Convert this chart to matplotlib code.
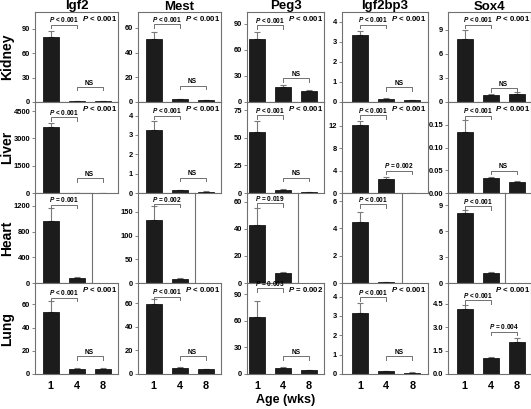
import matplotlib
matplotlib.use("Agg")
import matplotlib.pyplot as plt
import numpy as np

plt.rcParams['font.family'] = ['Liberation Sans', 'DejaVu Sans']
plt.rcParams['font.weight'] = 'bold'
plt.rcParams['mathtext.fontset'] = 'custom'
plt.rcParams['mathtext.it'] = 'Liberation Sans:italic:bold'
plt.rcParams['mathtext.rm'] = 'Liberation Sans:bold'

genes = ['Igf2', 'Mest', 'Peg3', 'Igf2bp3', 'Sox4']
tissues = ['Kidney', 'Liver', 'Heart', 'Lung']
ages = ['1', '4', '8']

# mean values per tissue, per gene (ages 1, 4, 8); heart has only 1 and 4 wks
means = {
    'Kidney': [[80, 1.5, 1.5], [51, 2.2, 1.4], [72, 17.3, 12.7], [3.33, 0.15, 0.08], [7.85, 0.87, 1.04]],
    'Liver':  [[3640, 8, 5], [3.25, 0.15, 0.07], [55.4, 3.0, 0.6], [12.1, 2.57, 0.05], [0.135, 0.032, 0.0234]],
    'Heart':  [[970, 78], [132, 9.5], [42.9, 7.3], [4.45, 0.05], [8.05, 1.15]],
    'Lung':   [[53, 4.4, 4.6], [59.3, 5.5, 4.0], [63.8, 6.4, 4.5], [3.17, 0.15, 0.07], [4.18, 1.0, 2.04]],
}
errs = {
    'Kidney': [[7.5, 0.3, 0.3], [6, 0.5, 0.2], [9, 2.7, 1.3], [0.2, 0.03, 0.02], [1.05, 0.13, 0.16]],
    'Liver':  [[220, 2, 1], [0.45, 0.03, 0.01], [9.6, 0.5, 0.2], [0.8, 0.23, 0.01], [0.025, 0.003, 0.0026]],
    'Heart':  [[190, 10], [30, 1.4], [12.7, 0.5], [0.78, 0.02], [0.38, 0.11]],
    'Lung':   [[9.8, 0.5, 0.8], [4.0, 0.5, 0.5], [18, 1.1, 0.4], [0.52, 0.03, 0.02], [0.26, 0.11, 0.26]],
}
ylims = {
    'Kidney': [110.6, 72.8, 103.5, 4.5, 11.2],
    'Liver':  [5000, 4.7, 82.5, 16.2, 0.2],
    'Heart':  [1400, 190, 66.3, 6.6, 10.4],
    'Lung':   [78.4, 77.3, 102.4, 4.7, 5.85],
}
yticks = {
    'Kidney': [[0, 30, 60, 90], [0, 20, 40, 60], [0, 30, 60, 90], [0, 1, 2, 3, 4], [0, 3, 6, 9]],
    'Liver':  [[0, 1500, 3000, 4500], [0, 1, 2, 3, 4], [0, 25, 50, 75], [0, 4, 8, 12], [0, 0.05, 0.10, 0.15]],
    'Heart':  [[0, 400, 800, 1200], [0, 50, 100, 150], [0, 20, 40, 60], [0, 2, 4, 6], [0, 3, 6, 9]],
    'Lung':   [[0, 20, 40, 60], [0, 20, 40, 60], [0, 30, 60, 90], [0, 1, 2, 3, 4], [0, 1.5, 3.0, 4.5]],
}
ytick_fmt = {('Liver', 4): '{:.2f}', ('Lung', 4): '{:.1f}'}

# overall P (top right) and pairwise comparisons: (label, height)
overall = {
    'Kidney': ['< 0.001'] * 5,
    'Liver':  ['< 0.001'] * 5,
    'Heart':  [None] * 5,
    'Lung':   ['< 0.001', '< 0.001', '= 0.002', '< 0.001', '< 0.001'],
}
pair14 = {
    'Kidney': [('< 0.001', 95), ('< 0.001', 62.7), ('< 0.001', 88), ('< 0.001', 3.87), ('< 0.001', 9.6)],
    'Liver':  [('< 0.001', 4170), ('< 0.001', 4.0), ('< 0.001', 70.8), ('< 0.001', 13.9), ('< 0.001', 0.17)],
    'Heart':  [('= 0.001', 1220), ('= 0.002', 167), ('= 0.019', 58.8), ('< 0.001', 5.76), ('< 0.001', 8.9)],
    'Lung':   [('< 0.001', 65.7), ('< 0.001', 65.6), ('= 0.003', 96.4), ('< 0.001', 3.97), ('< 0.001', 4.76)],
}
pair48 = {
    'Kidney': [('NS', 18.6), ('NS', 13.3), ('NS', 27.7), ('NS', 0.75), ('NS', 1.74)],
    'Liver':  [('NS', 820), ('NS', 0.8), ('NS', 14), ('= 0.002', 4.0), ('NS', 0.049)],
    'Heart':  [None] * 5,
    'Lung':   [('NS', 15.5), ('NS', 15.3), ('NS', 20.2), ('NS', 0.93), ('= 0.004', 2.72)],
}

# layout (pixels)
W, H = 531, 409
step = 26.0
col_left = [35, 138, 247, 342, 448]
col_lm = [0.6, 0.6, 0.38, 0.7, 0.64]
col_rm = [0.6, 0.6, 0.6, 0.6, 0.55]
row_top = [12, 102, 193, 283]
row_bot = [102, 193, 283, 374]

fig = plt.figure(figsize=(W / 100, H / 100), dpi=100)
spine_c = '#707070'
bar_c = '#1c1c1c'


def bracket(ax, x0, x1, y, label, ytop):
    d = ytop * 0.04
    ax.plot([x0, x0, x1, x1], [y - d, y, y, y - d], color=spine_c, lw=0.7, clip_on=False)
    txt = 'NS' if label == 'NS' else '$P$ ' + label
    ax.text((x0 + x1) / 2, y + ytop * 0.004, txt, ha='center', va='bottom', fontsize=4.7, clip_on=False)


for r, t in enumerate(tissues):
    for c, g in enumerate(genes):
        vals = means[t][c]
        n = len(vals)
        xmin = -col_lm[c]
        xmax = n - 1 + col_rm[c]
        w = (xmax - xmin) * step
        ax = fig.add_axes([col_left[c] / W, 1 - row_bot[r] / H, w / W, (row_bot[r] - row_top[r]) / H])
        x = np.arange(n)
        ax.bar(x, vals, width=0.62, color=bar_c, edgecolor='#000000', lw=0.5, zorder=2)
        ax.errorbar(x, vals, yerr=[np.zeros(n), errs[t][c]], fmt='none', ecolor='#7a7a7a',
                    elinewidth=0.8, capsize=2, capthick=0.8, zorder=1)
        ax.set_xlim(xmin, xmax)
        ax.set_ylim(0, ylims[t][c])
        ax.set_yticks(yticks[t][c])
        fmt = ytick_fmt.get((t, c), '{:g}')
        ax.set_yticklabels([fmt.format(v) for v in yticks[t][c]])
        ax.tick_params(axis='y', labelsize=5.4, length=2, width=0.6, color=spine_c, pad=1.5)
        if r == 3:
            ax.set_xticks(x)
            ax.set_xticklabels(ages)
            ax.tick_params(axis='x', labelsize=7.8, length=0, pad=5)
        else:
            ax.set_xticks([])
        for s in ax.spines.values():
            s.set_color(spine_c)
            s.set_linewidth(0.8)
        ytop = ylims[t][c]
        lab, yb = pair14[t][c]
        bracket(ax, 0, 1, yb, lab, ytop)
        if pair48[t][c] is not None:
            lab, yb = pair48[t][c]
            bracket(ax, 1, 2, yb, lab, ytop)
        if overall[t][c] is not None:
            ax.text(0.985, 0.975, '$P$ ' + overall[t][c], transform=ax.transAxes,
                    ha='right', va='top', fontsize=5.6)
        if r == 0:
            full_w = (2 + col_lm[c] + col_rm[c]) * step
            fig.text((col_left[c] + full_w / 2) / W, 1 - 0.5 / H, g, ha='center', va='top',
                     fontsize=9.5, fontweight='bold')
        if c == 0:
            fig.text(7 / W, 1 - (row_top[r] + row_bot[r]) / 2 / H, t, rotation=90,
                     ha='center', va='center', fontsize=10, fontweight='bold')

fig.text(286 / W, 1 - 400 / H, 'Age (wks)', ha='center', va='center',
         fontsize=9, fontweight='bold')

fig.savefig('out.png', dpi=100)
